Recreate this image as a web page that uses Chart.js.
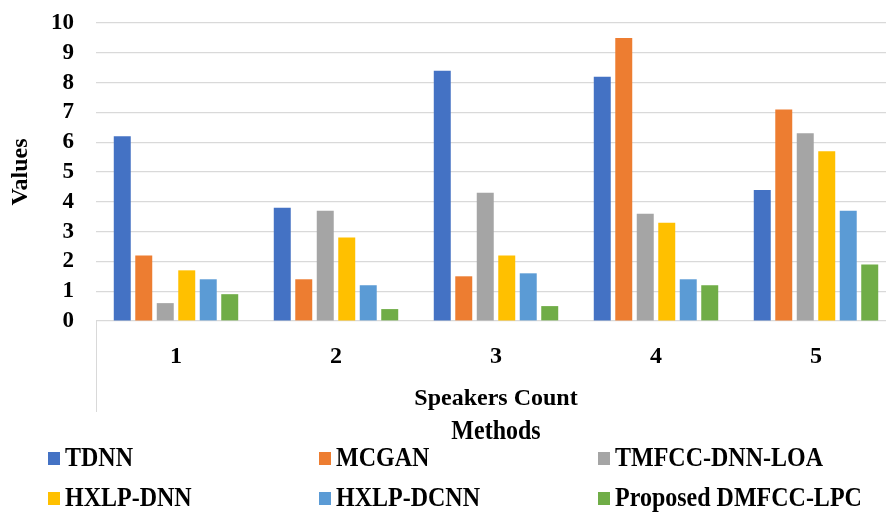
<!DOCTYPE html>
<html>
<head>
<meta charset="utf-8">
<script src="https://cdn.jsdelivr.net/npm/chart.js@4"></script>
<style>
  html, body { margin: 0; padding: 0; overflow: hidden; background: #fff; }
  #wrap { width: 906px; height: 514px; position: relative; }
</style>
</head>
<body>
<div id="wrap"><canvas id="speakerChart"></canvas></div>
<script>
// Speakers count vs. method values

const speakerCounts = ['1', '2', '3', '4', '5'];
const yTicks = [0, 1, 2, 3, 4, 5, 6, 7, 8, 9, 10];

const methodNames = ['TDNN', 'MCGAN', 'TMFCC-DNN-LOA', 'HXLP-DNN', 'HXLP-DCNN', 'Proposed DMFCC-LPC'];
const methodColors = ['#4472C4', '#ED7D31', '#A5A5A5', '#FFC000', '#5B9BD5', '#70AD47'];

const tdnn = [6.2, 3.8, 8.4, 8.2, 4.4];
const mcgan = [2.2, 1.4, 1.5, 9.5, 7.1];
const tmfcc = [0.6, 3.7, 4.3, 3.6, 6.3];
const hxlpDnn = [1.7, 2.8, 2.2, 3.3, 5.7];
const hxlpDcnn = [1.4, 1.2, 1.6, 1.4, 3.7];
const proposed = [0.9, 0.4, 0.5, 1.2, 1.9];

const seriesValues = [tdnn, mcgan, tmfcc, hxlpDnn, hxlpDcnn, proposed];

const serif = "'Liberation Serif', 'Times New Roman', serif";

// Excel-like legend laid out in a 3-column grid, plus the left edge line under the axis
const gridLegend = {
  id: 'gridLegend',
  afterDraw(chart) {
    const ctx = chart.ctx;
    const area = chart.chartArea;
    ctx.save();

    // thin vertical line below the category axis
    ctx.strokeStyle = '#d9d9d9';
    ctx.lineWidth = 1;
    ctx.beginPath();
    ctx.moveTo(area.left + 0.5, area.bottom);
    ctx.lineTo(area.left + 0.5, area.bottom + 91);
    ctx.stroke();

    // text in the original is a bit taller than normal
    const drawText = (txt, x, y) => {
      ctx.save();
      ctx.translate(x, y);
      ctx.scale(1, 1.1);
      ctx.fillText(txt, 0, 0);
      ctx.restore();
    };

    // legend title
    ctx.fillStyle = '#000';
    ctx.font = 'bold 24px ' + serif;
    ctx.textAlign = 'center';
    ctx.textBaseline = 'middle';
    drawText('Methods', (area.left + area.right) / 2, 432);

    const colX = [48, 319, 598];
    const rowY = [458, 498];
    ctx.textAlign = 'left';
    chart.data.datasets.forEach((ds, i) => {
      const x = colX[i % 3];
      const y = rowY[Math.floor(i / 3)];
      ctx.fillStyle = ds.backgroundColor;
      ctx.fillRect(x, y - 6, 12, 13);
      ctx.fillStyle = '#000';
      drawText(ds.label, x + 17, y + 1);
    });
    ctx.restore();
  }
};

const ctx = document.getElementById('speakerChart').getContext('2d');

new Chart(ctx, {
  type: 'bar',
  data: {
    labels: speakerCounts,
    datasets: methodNames.map((name, i) => ({
      label: name,
      data: seriesValues[i],
      backgroundColor: methodColors[i],
      categoryPercentage: 0.806,
      barPercentage: 0.79
    }))
  },
  options: {
    responsive: true,
    maintainAspectRatio: false,
    animation: false,
    layout: {
      padding: { left: 0, right: 10, top: 23, bottom: 93 }
    },
    plugins: {
      legend: { display: false },
      tooltip: { enabled: false }
    },
    scales: {
      x: {
        grid: { display: false },
        border: { display: false },
        ticks: {
          color: '#000',
          padding: 13,
          font: { family: serif, size: 24, weight: 'bold' }
        },
        title: {
          display: true,
          text: 'Speakers Count',
          color: '#000',
          padding: { top: 4, bottom: 8 },
          font: { family: serif, size: 24, weight: 'bold' }
        },
        afterFit(scale) { scale.height = 100; }
      },
      y: {
        min: yTicks[0],
        max: yTicks[yTicks.length - 1],
        grid: { color: '#d9d9d9', lineWidth: 1.2, drawTicks: true, tickLength: 22, tickColor: 'rgba(0,0,0,0)' },
        border: { display: false },
        ticks: {
          stepSize: 1,
          autoSkip: false,
          color: '#000',
          padding: 0,
          font: { family: serif, size: 23, weight: 'bold' }
        },
        title: {
          display: true,
          text: 'Values',
          color: '#000',
          padding: { top: 6, bottom: 0 },
          font: { family: serif, size: 24, weight: 'bold' }
        },
        afterFit(scale) { scale.width = 96; }
      }
    }
  },
  plugins: [gridLegend]
});
</script>
</body>
</html>
